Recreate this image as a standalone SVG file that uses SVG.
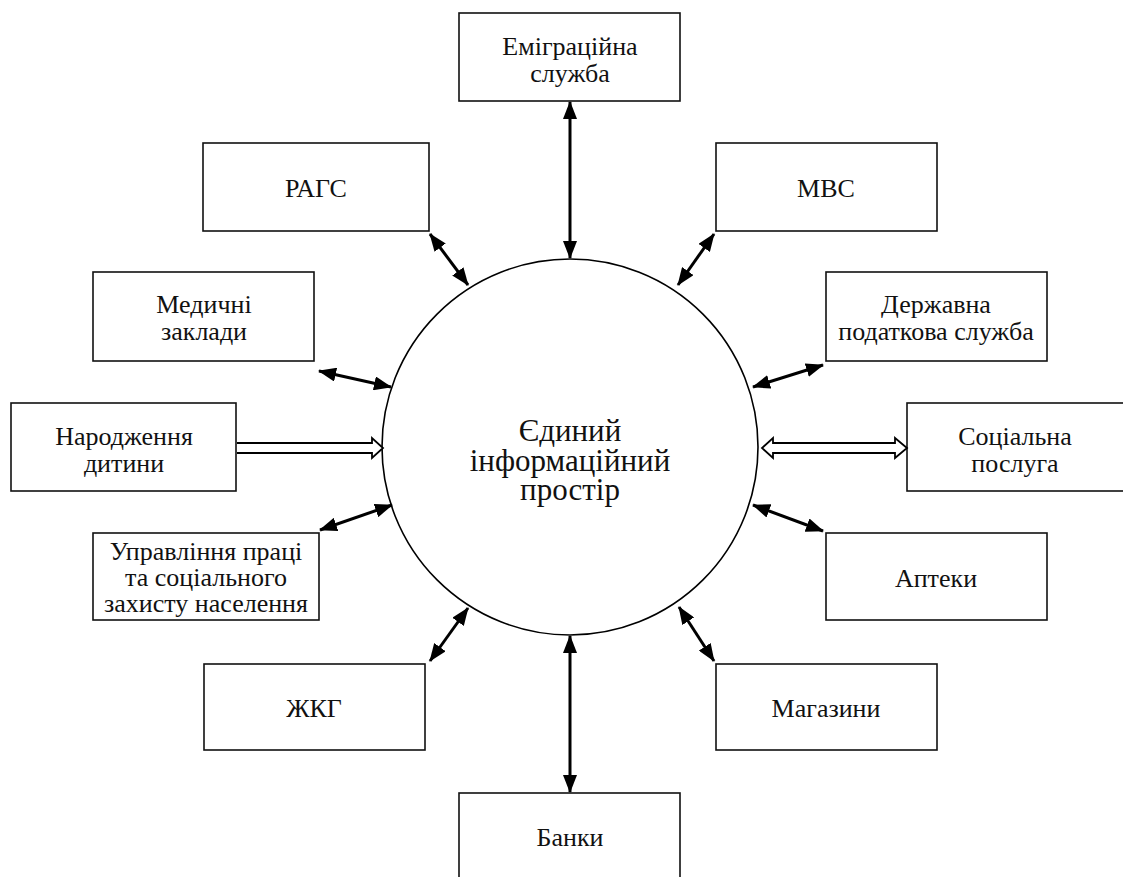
<svg xmlns="http://www.w3.org/2000/svg" width="1123" height="877" viewBox="0 0 1123 877">
<style>
.box{fill:#fff;stroke:#111;stroke-width:1.6}
.t{font-family:'Liberation Serif','DejaVu Serif',serif;font-size:26px;fill:#111;text-anchor:middle}
.c{font-size:31px}
.ln{stroke:#000;stroke-width:3;fill:none;marker-start:url(#ah);marker-end:url(#ah)}
.hol{fill:#fff;stroke:#000;stroke-width:1.8;stroke-linejoin:miter}
</style>
<defs>
<marker id="ah" viewBox="0 0 18 14" refX="17" refY="7" markerWidth="18" markerHeight="14" markerUnits="userSpaceOnUse" orient="auto-start-reverse">
<path d="M0,0 L18,7 L0,14 Z" fill="#000"/>
</marker>
</defs>
<rect width="1123" height="877" fill="#fff"/>
<g id="center">
<circle cx="570" cy="447" r="188" fill="#fff" stroke="#000" stroke-width="1.6"/>
<text class="t c" x="570" y="441">Єдиний</text>
<text class="t c" x="570" y="471">інформаційний</text>
<text class="t c" x="570" y="500">простір</text>
</g>
<g id="n-emigr"><rect class="box" x="459" y="13" width="221" height="88"/><text class="t" x="570" y="55">Еміграційна</text><text class="t" x="570" y="82">служба</text></g>
<g id="n-rags"><rect class="box" x="203" y="143" width="226" height="88"/><text class="t" x="316" y="197">РАГС</text></g>
<g id="n-mvs"><rect class="box" x="716" y="143" width="221" height="88"/><text class="t" x="826" y="197">МВС</text></g>
<g id="n-med"><rect class="box" x="93" y="272" width="221" height="89"/><text class="t" x="204" y="313">Медичні</text><text class="t" x="204" y="340">заклади</text></g>
<g id="n-dps"><rect class="box" x="826" y="272" width="221" height="89"/><text class="t" x="936" y="313">Державна</text><text class="t" x="936" y="340">податкова служба</text></g>
<g id="n-born"><rect class="box" x="11" y="403" width="225" height="88"/><text class="t" x="124" y="445">Народження</text><text class="t" x="124" y="472">дитини</text></g>
<g id="n-soc"><rect class="box" x="907" y="403" width="230" height="88"/><text class="t" x="1015" y="445">Соціальна</text><text class="t" x="1015" y="472">послуга</text></g>
<g id="n-upr"><rect class="box" x="93" y="533" width="226" height="87"/><text class="t" x="206" y="560">Управління праці</text><text class="t" x="206" y="586">та соціального</text><text class="t" x="206" y="612">захисту населення</text></g>
<g id="n-apt"><rect class="box" x="826" y="533" width="221" height="87"/><text class="t" x="936" y="587">Аптеки</text></g>
<g id="n-zkg"><rect class="box" x="204" y="664" width="221" height="86"/><text class="t" x="314" y="717">ЖКГ</text></g>
<g id="n-mag"><rect class="box" x="716" y="664" width="221" height="86"/><text class="t" x="826" y="717">Магазини</text></g>
<g id="n-bank"><rect class="box" x="459" y="793" width="221" height="100"/><text class="t" x="570" y="846">Банки</text></g>
<g id="connectors">
<line class="ln" x1="570" y1="102" x2="570" y2="258"/>
<line class="ln" x1="570" y1="636" x2="570" y2="792"/>
<line class="ln" x1="430" y1="234" x2="468" y2="285"/>
<line class="ln" x1="714" y1="234" x2="678" y2="285"/>
<line class="ln" x1="319" y1="371" x2="391" y2="387"/>
<line class="ln" x1="823" y1="365" x2="753" y2="387"/>
<line class="ln" x1="320" y1="530" x2="392" y2="505"/>
<line class="ln" x1="823" y1="531" x2="753" y2="505"/>
<line class="ln" x1="430" y1="661" x2="468" y2="608"/>
<line class="ln" x1="714" y1="661" x2="679" y2="607"/>
<path class="hol" d="M237,443 L372,443 L372,438 L383,448 L372,458 L372,453 L237,453"/>
<path class="hol" d="M773,443 L895,443 L895,438 L907,448 L895,458 L895,453 L773,453 L773,458 L762,448 L773,438 Z"/>
</g>
</svg>
